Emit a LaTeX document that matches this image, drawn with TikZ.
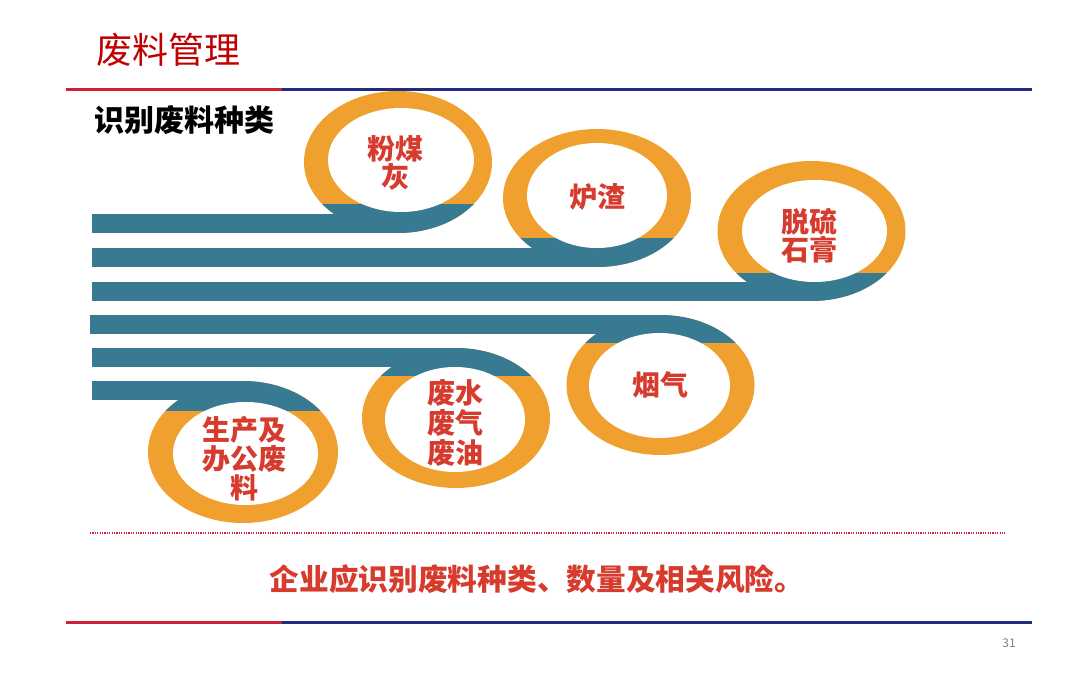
\documentclass[tikz,border=0pt]{standalone}
\usepackage{fontspec}
\setmainfont{Noto Sans CJK SC}
\usetikzlibrary{positioning}

\definecolor{bandteal}{HTML}{377A92}
\definecolor{ringorange}{HTML}{EFA02F}
\definecolor{tagred}{HTML}{D63B2E}
\definecolor{titlered}{HTML}{C00000}
\definecolor{rulered}{HTML}{D0203A}
\definecolor{rulenavy}{HTML}{1E2B7E}

\begin{document}
\begin{tikzpicture}[
  x=1pt, y=-1pt,
  band/.style={fill=bandteal},
  ring/.style={fill=ringorange},
  hole/.style={fill=white},
  tag/.style={font=\fontsize{28}{28}\selectfont\bfseries, text=tagred,
              align=center, inner sep=0pt},
  sepline/.style={line width=3pt},
]
\useasboundingbox (0,0) rectangle (1080,675);

% header
\node[font=\fontsize{36}{40}\selectfont, text=titlered, anchor=west, inner sep=0pt] (title) at (96,50) {废料管理};
\draw[sepline, rulered] (66,89.5) -- (282,89.5);
\draw[sepline, rulenavy] (282,89.5) -- (1032,89.5);
\node[font=\fontsize{30}{32}\selectfont\bfseries, anchor=west, inner sep=0pt] (kinds) at (94,120) {识别废料种类};

% upper loops (band comes in along the bottom)
\fill[ring] (398,162) ellipse [x radius=94pt, y radius=71pt];
\begin{scope}
  \clip (300,204) rectangle (500,240);
  \fill[band] (398,162) ellipse [x radius=94pt, y radius=71pt];
\end{scope}
\fill[band] (92,214) rectangle (398,233);
\fill[hole] (401,160) ellipse [x radius=73pt, y radius=52pt];
\node[tag] (ash) at (395,163) {粉煤\\灰};

\fill[ring] (597,198) ellipse [x radius=94pt, y radius=69pt];
\begin{scope}
  \clip (500,238) rectangle (700,270);
  \fill[band] (597,198) ellipse [x radius=94pt, y radius=69pt];
\end{scope}
\fill[band] (92,248) rectangle (597,267);
\fill[hole] (597,195.5) ellipse [x radius=70pt, y radius=52.5pt];
\node[tag] (slag) at (597,197) {炉渣};

\fill[ring] (811.5,231) ellipse [x radius=94pt, y radius=70pt];
\begin{scope}
  \clip (710,273) rectangle (910,305);
  \fill[band] (811.5,231) ellipse [x radius=94pt, y radius=70pt];
\end{scope}
\fill[band] (92,282) rectangle (811.5,301);
\fill[hole] (814.5,231) ellipse [x radius=72.5pt, y radius=51pt];
\node[tag] (gypsum) at (809,236) {脱硫\\石膏};

% lower loops (band comes in along the top)
\fill[ring] (660.5,385) ellipse [x radius=94pt, y radius=70pt];
\begin{scope}
  \clip (560,310) rectangle (760,342);
  \fill[band] (660.5,385) ellipse [x radius=94pt, y radius=70pt];
\end{scope}
\fill[band] (90,315) rectangle (660.5,334);
\fill[hole] (659.5,385.5) ellipse [x radius=70.5pt, y radius=52.5pt];
\node[tag] (flue) at (660,385) {烟气};

\fill[ring] (456,418) ellipse [x radius=94pt, y radius=70pt];
\begin{scope}
  \clip (355,343) rectangle (555,375);
  \fill[band] (456,418) ellipse [x radius=94pt, y radius=70pt];
\end{scope}
\fill[band] (92,348) rectangle (456,367);
\fill[hole] (455,419.5) ellipse [x radius=70pt, y radius=52.5pt];
\node[tag, font=\fontsize{28}{30}\selectfont\bfseries] (liquids) at (455,423) {废水\\废气\\废油};

\fill[ring] (243,452) ellipse [x radius=95pt, y radius=71pt];
\begin{scope}
  \clip (140,376) rectangle (345,410);
  \fill[band] (243,452) ellipse [x radius=95pt, y radius=71pt];
\end{scope}
\fill[band] (92,381) rectangle (243,400);
\fill[hole] (245.5,453.5) ellipse [x radius=72.5pt, y radius=51.5pt];
\node[tag, font=\fontsize{28}{29}\selectfont\bfseries] (office) at (244,459) {生产及\\办公废\\料};

% footer
\draw[rulered, line width=1.6pt, dash pattern=on 1.2pt off 1.2pt] (90,533) -- (1005,533);
\node[tag, font=\fontsize{29.7}{30}\selectfont\bfseries] (note) at (537,579) {企业应识别废料种类、数量及相关风险。};
\draw[sepline, rulered] (66,622.5) -- (282,622.5);
\draw[sepline, rulenavy] (282,622.5) -- (1032,622.5);
\node[font=\fontsize{12}{12}\selectfont, text=gray, inner sep=0pt] (page) at (1009,643) {31};
\end{tikzpicture}
\end{document}
